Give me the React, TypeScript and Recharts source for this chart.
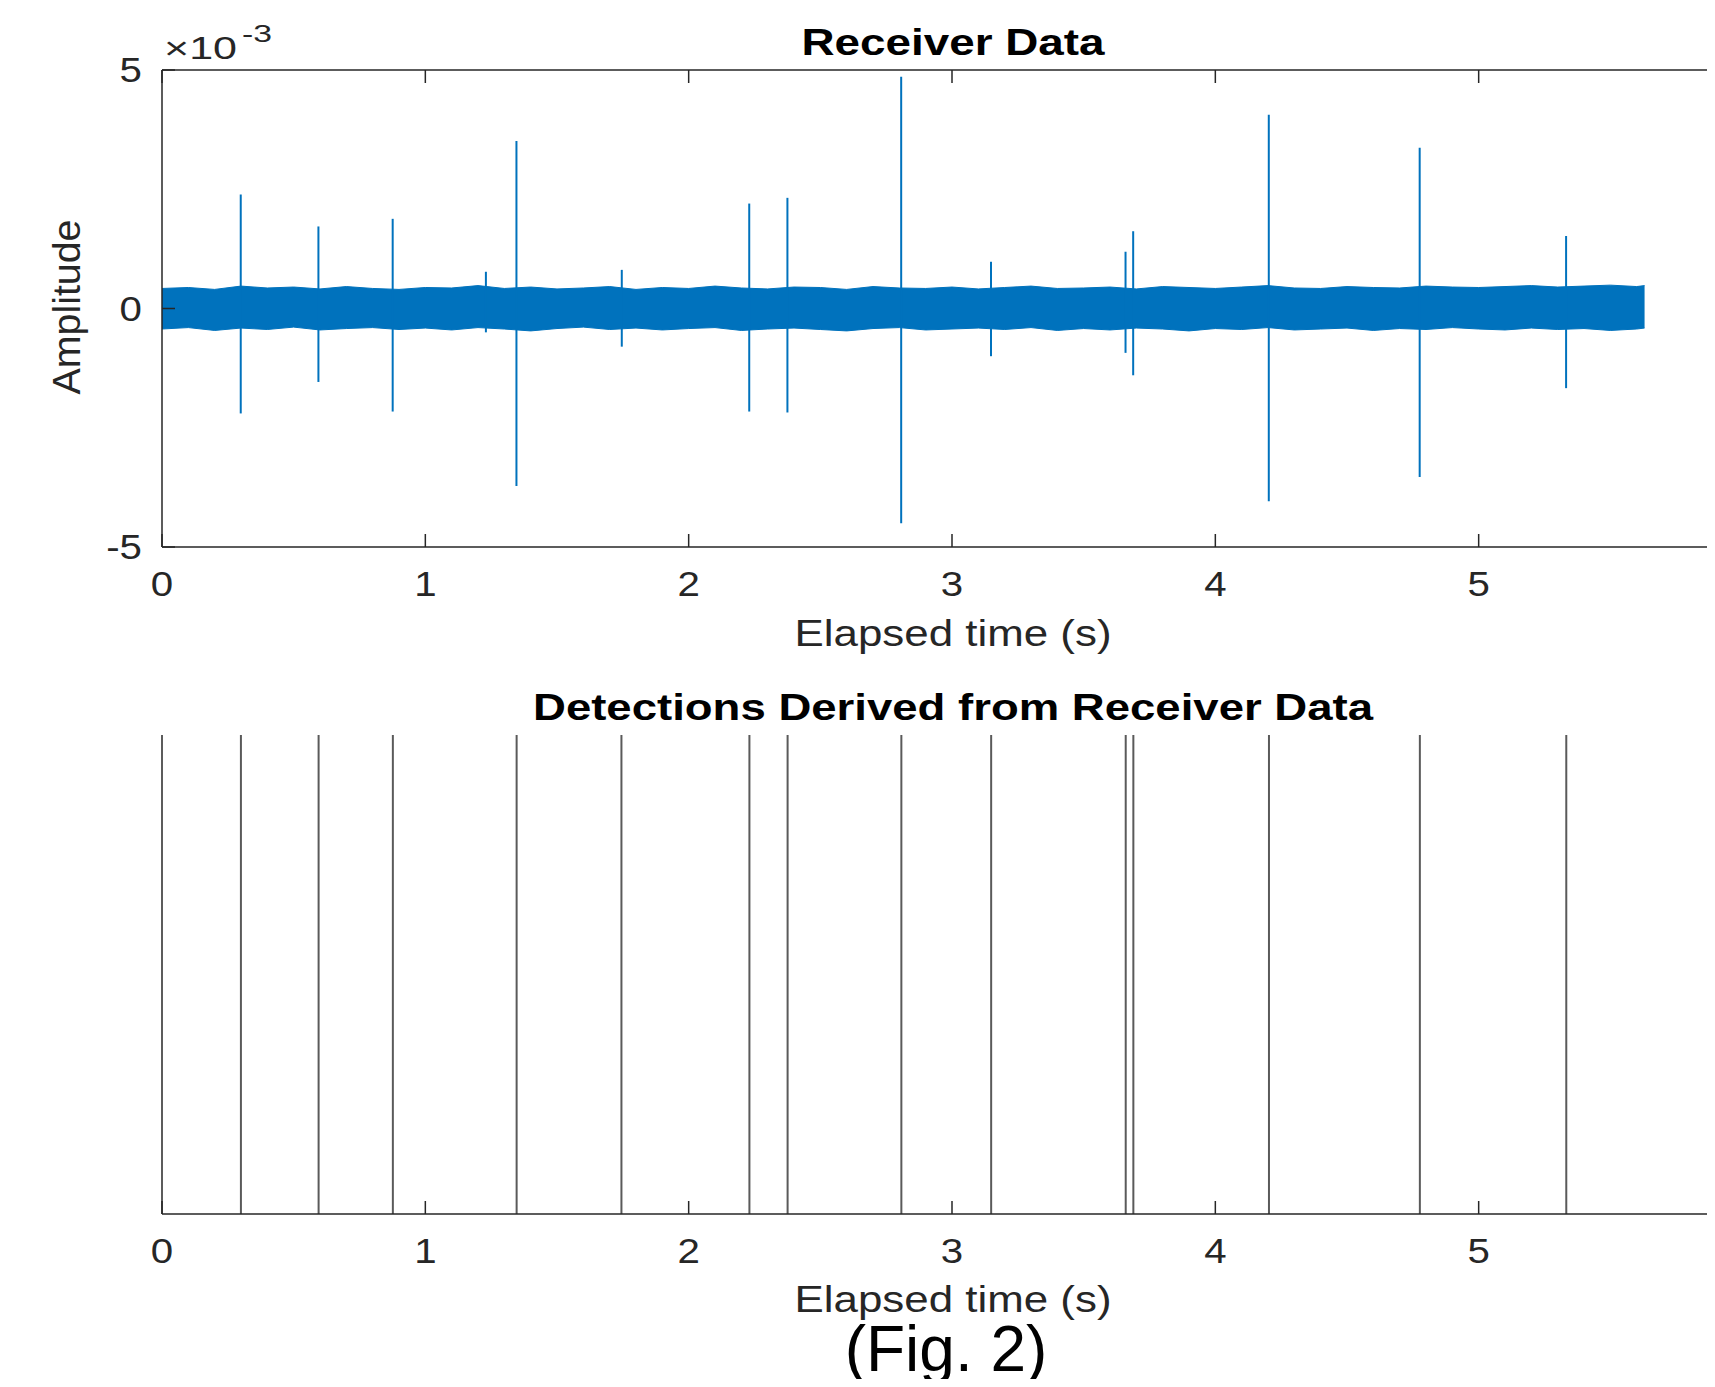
import React from "react";
import { Area, Bar, ComposedChart, ReferenceLine, XAxis, YAxis } from "recharts";

const FONT = '"Liberation Sans", Arial, Helvetica, sans-serif';
const AXIS = "#262626";
const BLUE = "#0072BD";
const GRAY = "#5a5a5a";
const TOP_PLOT_HEIGHT = 477;

// axis runs to 6 s but the figure is cropped just before the last tick
const timeTicks = [0, 1, 2, 3, 4, 5];
const ampTicks = [-5, 0, 5];

// noise envelope of the receiver trace (amplitude in units of 1e-3)
const bandTimes = [
  0, 0.1, 0.2, 0.3, 0.4, 0.5, 0.6, 0.7, 0.8, 0.9, 1.0, 1.1, 1.2, 1.3, 1.4, 1.5, 1.6, 1.7, 1.8, 1.9,
  2.0, 2.1, 2.2, 2.3, 2.4, 2.5, 2.6, 2.7, 2.8, 2.9, 3.0, 3.1, 3.2, 3.3, 3.4, 3.5, 3.6, 3.7, 3.8, 3.9,
  4.0, 4.1, 4.2, 4.3, 4.4, 4.5, 4.6, 4.7, 4.8, 4.9, 5.0, 5.1, 5.2, 5.3, 5.4, 5.5, 5.6, 5.63,
];
const bandUpper = [
  0.42, 0.44, 0.4, 0.47, 0.43, 0.45, 0.41, 0.46, 0.42, 0.4, 0.44, 0.43, 0.48, 0.42, 0.45, 0.41, 0.43, 0.46, 0.4, 0.44,
  0.42, 0.47, 0.43, 0.41, 0.45, 0.44, 0.4, 0.46, 0.43, 0.42, 0.45, 0.41, 0.44, 0.47, 0.42, 0.43, 0.45, 0.41, 0.46, 0.44,
  0.42, 0.45, 0.48, 0.43, 0.42, 0.46, 0.44, 0.43, 0.47, 0.45, 0.44, 0.46, 0.48, 0.45, 0.47, 0.49, 0.46, 0.48,
];
const bandLower = [
  -0.43, -0.4, -0.46, -0.41, -0.44, -0.39, -0.45, -0.42, -0.4, -0.44, -0.41, -0.45, -0.4, -0.43, -0.47, -0.42, -0.39, -0.44, -0.41, -0.45,
  -0.42, -0.4, -0.46, -0.43, -0.41, -0.44, -0.47, -0.42, -0.4, -0.45, -0.43, -0.41, -0.44, -0.4, -0.46, -0.42, -0.45, -0.41, -0.43, -0.47,
  -0.42, -0.44, -0.4, -0.45, -0.43, -0.41, -0.46, -0.42, -0.44, -0.4, -0.43, -0.45, -0.41, -0.44, -0.42, -0.46, -0.43, -0.41,
];

// pulses standing out of the noise
const spikeTimes = [0.299, 0.594, 0.876, 1.23, 1.346, 1.746, 2.23, 2.375, 2.807, 3.148, 3.659, 3.688, 4.203, 4.776, 5.332];
const spikeHigh = [2.39, 1.72, 1.88, 0.77, 3.51, 0.81, 2.2, 2.32, 4.86, 0.98, 1.19, 1.62, 4.06, 3.37, 1.52];
const spikeLow = [-2.2, -1.54, -2.16, -0.5, -3.72, -0.8, -2.16, -2.18, -4.5, -1.0, -0.93, -1.4, -4.04, -3.53, -1.67];

const detectionTimes = [0.299, 0.594, 0.876, 1.346, 1.744, 2.23, 2.375, 2.807, 3.148, 3.659, 3.688, 4.203, 4.776, 5.332];

const bandData = bandTimes.map((t, i) => ({ t, band: [bandLower[i], bandUpper[i]] }));
const detectionData = detectionTimes.map((t) => ({ t, hit: 1 }));

// inward tick + label; boxHeight > 0 also draws the matching tick on the top border
function BottomTick({ x, y, payload, boxHeight = 0 }: any) {
  return (
    <g>
      <line x1={x} y1={y} x2={x} y2={y - 13} stroke={AXIS} strokeWidth={1.5} />
      {boxHeight > 0 && <line x1={x} y1={y - boxHeight} x2={x} y2={y - boxHeight + 13} stroke={AXIS} strokeWidth={1.5} />}
      <text transform={`translate(${x},${y + 49}) scale(1.15,1)`} textAnchor="middle" fontSize={35} fill={AXIS} fontFamily={FONT}>
        {payload.value}
      </text>
    </g>
  );
}

function LeftTick({ x, y, payload }: any) {
  return (
    <g>
      <line x1={x} y1={y} x2={x + 13} y2={y} stroke={AXIS} strokeWidth={1.5} />
      <text transform={`translate(${x - 20},${y + 12}) scale(1.15,1)`} textAnchor="end" fontSize={35} fill={AXIS} fontFamily={FONT}>
        {payload.value}
      </text>
    </g>
  );
}

const axisLine = { stroke: AXIS, strokeWidth: 1.5 };

export default function App() {
  return (
    <div style={{ position: "relative", width: 1715, height: 1387, overflow: "hidden", margin: -8, background: "#fff" }}>
      <div style={{ position: "absolute", left: 0, top: 0 }}>
        <ComposedChart width={1760} height={640} data={bandData} margin={{ top: 70, right: 18, left: 0, bottom: 0 }}>
          <XAxis dataKey="t" type="number" domain={[0, 6]} ticks={timeTicks} interval={0} height={640 - 70 - TOP_PLOT_HEIGHT}
            allowDataOverflow tickSize={0} tickMargin={0} tickLine={false} axisLine={axisLine}
            tick={(p: any) => <BottomTick {...p} boxHeight={TOP_PLOT_HEIGHT} />} />
          <YAxis type="number" domain={[-5, 5]} ticks={ampTicks} interval={0} width={162}
            allowDataOverflow tickSize={0} tickMargin={0} tickLine={false} axisLine={axisLine} tick={(p: any) => <LeftTick {...p} />} />
          <ReferenceLine y={5} stroke={AXIS} strokeWidth={1.5} />
          <Area dataKey="band" type="linear" stroke={BLUE} strokeWidth={1} fill={BLUE} fillOpacity={1}
            dot={false} activeDot={false} isAnimationActive={false} />
          {spikeTimes.map((t, i) => (
            <ReferenceLine key={i} segment={[{ x: t, y: spikeLow[i] }, { x: t, y: spikeHigh[i] }]} stroke={BLUE} strokeWidth={2} />
          ))}
        </ComposedChart>
      </div>

      <div style={{ position: "absolute", left: 0, top: 700 }}>
        <ComposedChart width={1760} height={640} data={detectionData} margin={{ top: 35, right: 18, left: 0, bottom: 0 }}>
          <XAxis dataKey="t" type="number" domain={[0, 6]} ticks={timeTicks} interval={0} height={640 - 35 - 479}
            allowDataOverflow tickSize={0} tickMargin={0} tickLine={false} axisLine={axisLine} tick={(p: any) => <BottomTick {...p} />} />
          <YAxis type="number" domain={[0, 1]} width={162} tick={false} tickLine={false} axisLine={axisLine} />
          <Bar dataKey="hit" barSize={2} fill={GRAY} isAnimationActive={false} />
        </ComposedChart>
      </div>

      <svg width={1715} height={1387} style={{ position: "absolute", left: 0, top: 0, pointerEvents: "none" }} fontFamily={FONT}>
        <text x={953} y={54.5} textAnchor="middle" fontSize={36} fontWeight="bold" fill="#000" textLength={303} lengthAdjust="spacingAndGlyphs">
          Receiver Data
        </text>
        <text x={164} y={58.5} fontSize={32} fill={AXIS} textLength={73} lengthAdjust="spacingAndGlyphs">×10</text>
        <text x={242} y={41.5} fontSize={24} fill={AXIS} textLength={30} lengthAdjust="spacingAndGlyphs">-3</text>
        <text transform="translate(80,307) rotate(-90)" textAnchor="middle" fontSize={38} fill={AXIS} textLength={175} lengthAdjust="spacingAndGlyphs">
          Amplitude
        </text>
        <text x={953} y={646} textAnchor="middle" fontSize={36} fill={AXIS} textLength={317} lengthAdjust="spacingAndGlyphs">
          Elapsed time (s)
        </text>
        <text x={953} y={719.5} textAnchor="middle" fontSize={36} fontWeight="bold" fill="#000" textLength={840} lengthAdjust="spacingAndGlyphs">
          Detections Derived from Receiver Data
        </text>
        <text x={953} y={1311.5} textAnchor="middle" fontSize={36} fill={AXIS} textLength={317} lengthAdjust="spacingAndGlyphs">
          Elapsed time (s)
        </text>
        <text x={946} y={1371} textAnchor="middle" fontSize={64} fill="#000">
          (Fig. 2)
        </text>
      </svg>
    </div>
  );
}
